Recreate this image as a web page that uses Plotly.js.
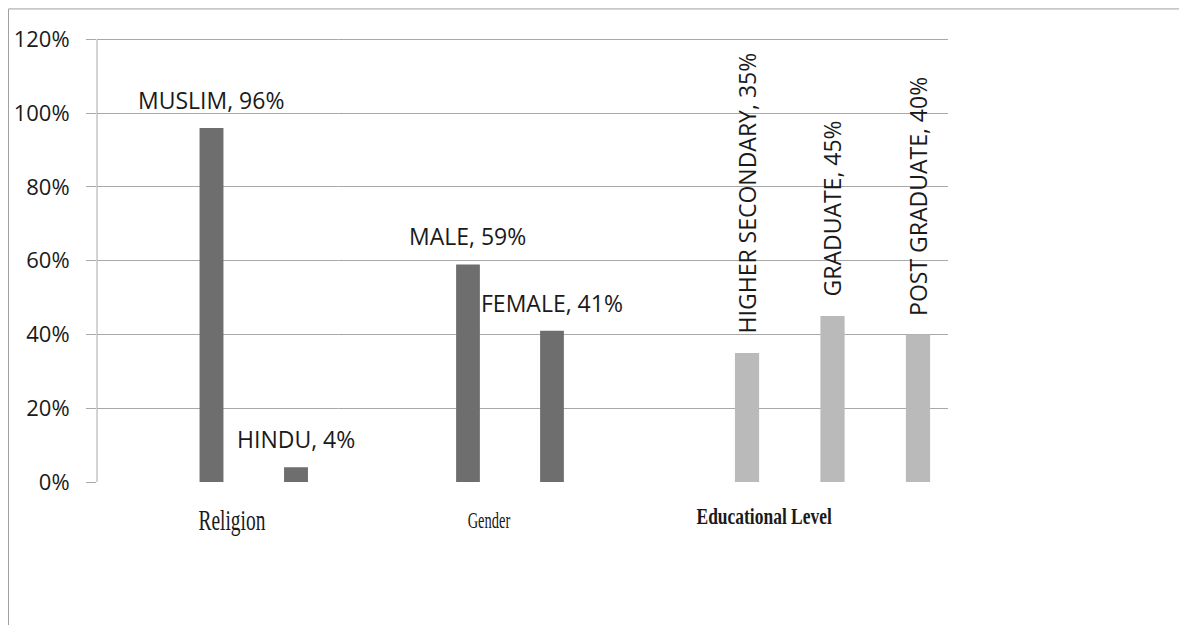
<!DOCTYPE html>
<html>
<head>
<meta charset="utf-8">
<script src="https://cdn.plot.ly/plotly-3.0.1.min.js"></script>
<style>
  html, body { margin: 0; padding: 0; background: #fff; }
  #chart { width: 1179px; height: 625px; }
  .annotation[data-index="0"] text { transform-box: fill-box; transform-origin: center; transform: scaleX(0.67); }
  .annotation[data-index="1"] text { transform-box: fill-box; transform-origin: center; transform: scaleX(0.63); }
  .annotation[data-index="2"] text { transform-box: fill-box; transform-origin: center; transform: scaleX(0.76); }
</style>
</head>
<body>
<div id="chart"></div>
<script>
// ---- data ----
const groupLabels = ['Religion', 'Gender', 'Educational Level'];
const religionCats = ['MUSLIM', 'HINDU'];
const religionVals = [0.96, 0.04];
const genderCats = ['MALE', 'FEMALE'];
const genderVals = [0.59, 0.41];
const eduCats = ['HIGHER SECONDARY', 'GRADUATE', 'POST GRADUATE'];
const eduVals = [0.35, 0.45, 0.40];
const yTickVals = [0, 0.2, 0.4, 0.6, 0.8, 1.0, 1.2];

// ---- styles ----
const darkBar = '#6e6e6e';
const lightBar = '#bababa';
const gridCol = '#a8a8a8';
const textCol = '#1a1a1a';
const labelFont = { family: 'Open Sans, sans-serif', size: 23, color: textCol };

const hiddenX = {
  showgrid: false, zeroline: false, showline: false, ticks: '',
  showticklabels: false, fixedrange: true
};

function pct(v) { return Math.round(v * 100) + '%'; }

const groups = [
  { axis: 'x2', cats: religionCats, vals: religionVals, color: darkBar, rotate: false },
  { axis: 'x3', cats: genderCats, vals: genderVals, color: darkBar, rotate: false },
  { axis: 'x4', cats: eduCats, vals: eduVals, color: lightBar, rotate: true }
];

const traces = [
  { type: 'scatter', x: [], y: [], xaxis: 'x', yaxis: 'y', showlegend: false, hoverinfo: 'skip' }
];
groups.forEach(g => {
  traces.push({
    type: 'bar', x: g.cats, y: g.vals, xaxis: g.axis, yaxis: 'y',
    marker: { color: g.color, line: { width: 0 } },
    width: 0.283, showlegend: false, hoverinfo: 'x+y'
  });
});

const annotations = [];
// group labels (category titles)
const groupLabelX = [0.1586, 0.4612, 0.7838];
const groupFonts = [
  { family: 'Liberation Serif, Times New Roman, serif', size: 29, color: textCol },
  { family: 'Liberation Serif, Times New Roman, serif', size: 23, color: textCol },
  { family: 'Liberation Serif, Times New Roman, serif', size: 23, color: textCol, weight: 'bold' }
];
const groupLabelY = [-0.0846, -0.0866, -0.0768];
groupLabels.forEach((t, i) => {
  annotations.push({
    xref: 'paper', yref: 'paper', x: groupLabelX[i], y: groupLabelY[i],
    text: t, showarrow: false, xanchor: 'center', yanchor: 'middle',
    font: groupFonts[i]
  });
});
// data labels
groups.forEach(g => {
  g.cats.forEach((c, i) => {
    const a = {
      xref: g.axis, yref: 'y', x: c, y: g.vals[i],
      text: c + ', ' + pct(g.vals[i]), showarrow: false, font: labelFont
    };
    if (g.rotate) {
      a.textangle = -90; a.xanchor = 'center'; a.yanchor = 'bottom'; a.yshift = 17;
    } else {
      a.xanchor = 'center'; a.yanchor = 'middle'; a.yshift = 28;
    }
    annotations.push(a);
  });
});

// frame lines (top + left border of the original picture)
const frameCol = '#a0a0a0';
const shapes = [
  { type: 'line', xref: 'paper', yref: 'paper', x0: -0.104, x1: 1.28, y0: 1.0513, y1: 1.0513, line: { color: frameCol, width: 1 } },
  { type: 'line', xref: 'paper', yref: 'paper', x0: -0.104, x1: -0.104, y0: 1.0513, y1: -0.33, line: { color: frameCol, width: 1 } }
];

const layout = {
  width: 1179, height: 625,
  margin: { l: 97, r: 231, t: 31.6, b: 143, pad: 0 },
  paper_bgcolor: '#ffffff', plot_bgcolor: '#ffffff',
  showlegend: false,
  font: labelFont,
  xaxis: Object.assign({ domain: [0, 1], range: [0, 1], anchor: 'y' }, hiddenX),
  xaxis2: Object.assign({ type: 'category', domain: [0.0849, 0.2835], range: [-0.5, 1.5], anchor: 'y' }, hiddenX),
  xaxis3: Object.assign({ type: 'category', domain: [0.3866, 0.584], range: [-0.5, 1.5], anchor: 'y' }, hiddenX),
  xaxis4: Object.assign({ type: 'category', domain: [0.7136, 1.0], range: [-0.5, 2.351], anchor: 'y' }, hiddenX),
  yaxis: {
    anchor: 'x', range: [0, 1.22], tickvals: yTickVals, tickformat: '.0%',
    showgrid: true, gridcolor: gridCol, gridwidth: 1,
    zeroline: false, showline: false,
    ticks: 'outside', ticklen: 10, tickcolor: gridCol, tickwidth: 1,
    ticklabelstandoff: 12,
    tickfont: { family: 'Open Sans, sans-serif', size: 22, color: textCol },
    fixedrange: true
  },
  annotations: annotations,
  shapes: shapes.concat([
    // vertical value axis line from 0% to 120%
    { type: 'line', xref: 'paper', yref: 'y', x0: 0, x1: 0, y0: yTickVals[0], y1: yTickVals[yTickVals.length - 1], line: { color: gridCol, width: 1 } }
  ])
};

Plotly.newPlot('chart', traces, layout, { displayModeBar: false, staticPlot: true });
</script>
</body>
</html>
